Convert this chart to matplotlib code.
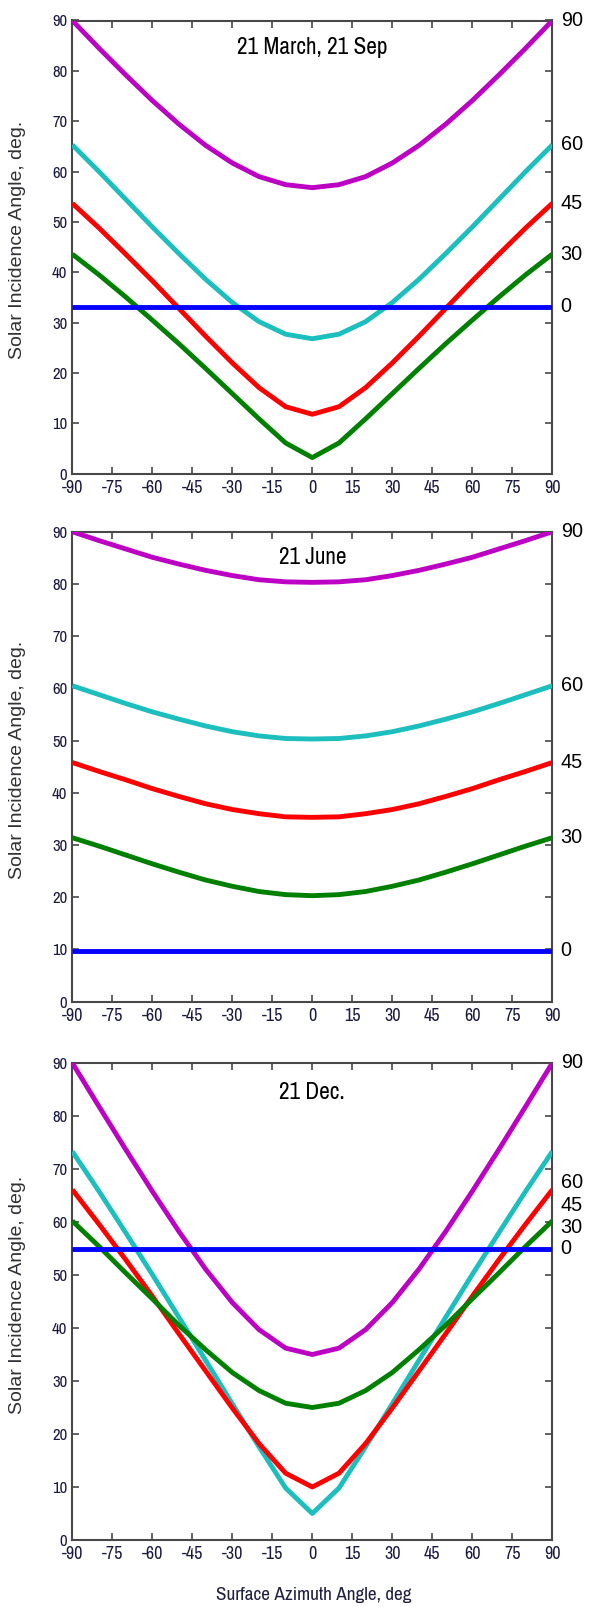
import os
import matplotlib
matplotlib.use('Agg')
import matplotlib.pyplot as plt
from matplotlib import font_manager
from matplotlib.font_manager import FontProperties

# ---------------- data ----------------
azimuth = [-90, -80, -70, -60, -50, -40, -30, -20, -10, 0,
           10, 20, 30, 40, 50, 60, 70, 80, 90]
tilts = [90, 60, 45, 30, 0]
tilt_labels = ['90', '60', '45', '30', '0']

mar_t90 = [90.0, 84.5, 79.2, 74.1, 69.4, 65.2, 61.7, 59.0, 57.4, 56.8,
           57.4, 59.0, 61.7, 65.2, 69.4, 74.1, 79.2, 84.5, 90.0]
mar_t60 = [65.3, 60.0, 54.5, 49.0, 43.7, 38.6, 34.0, 30.2, 27.7, 26.8,
           27.7, 30.2, 34.0, 38.6, 43.7, 49.0, 54.5, 60.0, 65.3]
mar_t45 = [53.7, 48.8, 43.6, 38.3, 32.8, 27.3, 22.0, 17.1, 13.3, 11.8,
           13.3, 17.1, 22.0, 27.3, 32.8, 38.3, 43.6, 48.8, 53.7]
mar_t30 = [43.6, 39.5, 35.1, 30.5, 25.8, 20.9, 15.9, 10.9, 6.1, 3.2,
           6.1, 10.9, 15.9, 20.9, 25.8, 30.5, 35.1, 39.5, 43.6]
mar_t0 = [33.2] * 19

jun_t90 = [90.0, 88.3, 86.7, 85.1, 83.8, 82.6, 81.6, 80.8, 80.4, 80.3,
           80.4, 80.8, 81.6, 82.6, 83.8, 85.1, 86.7, 88.3, 90.0]
jun_t60 = [60.5, 58.8, 57.1, 55.5, 54.1, 52.8, 51.7, 50.9, 50.4, 50.3,
           50.4, 50.9, 51.7, 52.8, 54.1, 55.5, 57.1, 58.8, 60.5]
jun_t45 = [45.8, 44.1, 42.5, 40.8, 39.3, 37.9, 36.8, 36.0, 35.4, 35.3,
           35.4, 36.0, 36.8, 37.9, 39.3, 40.8, 42.5, 44.1, 45.8]
jun_t30 = [31.4, 29.8, 28.1, 26.4, 24.8, 23.3, 22.1, 21.1, 20.5, 20.3,
           20.5, 21.1, 22.1, 23.3, 24.8, 26.4, 28.1, 29.8, 31.4]
jun_t0 = [9.8] * 19

dec_t90 = [90.0, 81.8, 73.7, 65.8, 58.2, 51.1, 44.8, 39.7, 36.2, 35.0,
           36.2, 39.7, 44.8, 51.1, 58.2, 65.8, 73.7, 81.8, 90.0]
dec_t60 = [73.3, 65.8, 58.0, 50.1, 42.0, 33.9, 25.7, 17.6, 9.8, 5.0,
           9.8, 17.6, 25.7, 33.9, 42.0, 50.1, 58.0, 65.8, 73.3]
dec_t45 = [66.1, 59.6, 52.9, 46.0, 38.9, 31.9, 24.9, 18.2, 12.6, 10.0,
           12.6, 18.2, 24.9, 31.9, 38.9, 46.0, 52.9, 59.6, 66.1]
dec_t30 = [60.2, 55.4, 50.4, 45.5, 40.5, 35.9, 31.6, 28.2, 25.8, 25.0,
           25.8, 28.2, 31.6, 35.9, 40.5, 45.5, 50.4, 55.4, 60.2]
dec_t0 = [55.0] * 19

titles = ['21 March, 21 Sep', '21 June', '21 Dec.']
mar_label_y = [90.0, 65.3, 53.7, 43.6, 33.2]
jun_label_y = [90.0, 60.5, 45.8, 31.4, 9.8]
dec_label_y = [90.0, 67.5, 63.2, 59.0, 55.0]

x_ticks = list(range(-90, 91, 15))
y_ticks = list(range(0, 91, 10))

# ---------------- fonts ----------------
def pick_condensed():
    bad = ('bold', 'italic', 'oblique', 'light', 'thin', 'black', 'medium',
           'semibold', 'heavy', 'mono')
    best, best_score = None, 99
    for f in font_manager.fontManager.ttflist:
        nm = f.name.lower()
        fn = os.path.basename(f.fname).lower()
        full = nm + ' ' + fn
        if 'serif' in full and 'sans' not in full:
            continue
        if any(b in fn for b in bad):
            continue
        if f.style != 'normal':
            continue
        stretch = str(f.stretch).lower()
        if 'narrow' in full:
            score = 0
        elif 'semicondensed' in full or 'semi-condensed' in full:
            score = 3
        elif 'extracondensed' in full or 'extra-condensed' in full:
            score = 4
        elif 'condensed' in full or 'condensed' in stretch:
            score = 1
        else:
            continue
        if 'liberation' in full or 'arial' in full:
            score -= 0.5
        if score < best_score:
            best, best_score = f, score
    return best

cond = pick_condensed()
if cond is not None:
    narrow_fp = FontProperties(fname=cond.fname)
else:
    narrow_fp = FontProperties(family='DejaVu Sans')
names = {f.name for f in font_manager.fontManager.ttflist}
regular_fp = FontProperties(family='Liberation Sans' if 'Liberation Sans' in names else 'DejaVu Sans')

W, H = 592.0, 1607.0
fig = plt.figure(figsize=(5.92, 16.07), dpi=100)
renderer = fig.canvas.get_renderer()


def fit(fp, text, target_px):
    p = fp.copy()
    p.set_size(10.0)
    t = fig.text(0, 0, text, fontproperties=p)
    w = t.get_window_extent(renderer).width
    t.remove()
    q = fp.copy()
    q.set_size(10.0 * target_px / w)
    return q

xtick_fp = fit(narrow_fp, '-75', 21.3)
ytick_fp = fit(narrow_fp, '90', 15.0)
title_fp = fit(narrow_fp, '21 March, 21 Sep', 151.0)
xlabel_fp = fit(narrow_fp, 'Surface Azimuth Angle, deg', 196.0)
ylabel_fp = fit(regular_fp, 'Solar Incidence Angle, deg.', 238.0)
right_fp = fit(regular_fp, '90', 22.0)

colors = {90: '#BC00C4', 60: '#1CBEBE', 45: '#FF0000', 30: '#008000', 0: '#0000FF'}
tick_color = '#1a1a40'
spine_color = '#484848'

panels = [(20.5, 473.7), (531.7, 1001.7), (1063.0, 1540.0)]
left_px, right_px = 72.3, 552.3
title_baseline = [54.0, 564.5, 1099.0]
ylabel_center = [240.0, 760.0, 1295.0]

data_sets = [
    [mar_t90, mar_t60, mar_t45, mar_t30, mar_t0],
    [jun_t90, jun_t60, jun_t45, jun_t30, jun_t0],
    [dec_t90, dec_t60, dec_t45, dec_t30, dec_t0],
]
label_ys = [mar_label_y, jun_label_y, dec_label_y]

for i, (top, bot) in enumerate(panels):
    ax = fig.add_axes([left_px / W, 1 - bot / H, (right_px - left_px) / W, (bot - top) / H])
    for t, ys in zip(tilts, data_sets[i]):
        ax.plot(azimuth, ys, color=colors[t], lw=3.5, solid_joinstyle='round',
                solid_capstyle='butt', zorder=3)
    ax.set_xlim(-90, 90)
    ax.set_ylim(0, 90)
    ax.set_xticks(x_ticks)
    ax.set_yticks(y_ticks)
    ax.set_xticklabels([str(v) for v in x_ticks], fontproperties=xtick_fp, color=tick_color)
    ax.set_yticklabels([str(v) for v in y_ticks], fontproperties=ytick_fp, color=tick_color)
    ax.tick_params(direction='in', length=5, width=1.2, colors=spine_color,
                   top=True, right=True, labelcolor=tick_color)
    ax.tick_params(axis='x', pad=4.5)
    ax.tick_params(axis='y', pad=3.5)
    for s in ax.spines.values():
        s.set_color(spine_color)
        s.set_linewidth(1.5)
    ax.set_ylabel('Solar Incidence Angle, deg.', fontproperties=ylabel_fp, color='#303038')
    cy = (bot - ylabel_center[i]) / (bot - top)
    ax.yaxis.set_label_coords((26.5 - left_px) / (right_px - left_px), cy)
    ax.text(0.5, (bot - title_baseline[i]) / (bot - top), titles[i], transform=ax.transAxes,
            ha='center', va='baseline', fontproperties=title_fp, color='black')
    for lab, yv in zip(tilt_labels, label_ys[i]):
        ax.annotate(lab, xy=(1.0, yv), xycoords=('axes fraction', 'data'),
                    xytext=(6, 0), textcoords='offset points', ha='left', va='center',
                    fontproperties=right_fp, color='black', annotation_clip=False)

fig.text(314 / W, 1 - 1595 / H, 'Surface Azimuth Angle, deg', ha='center', va='center',
         fontproperties=xlabel_fp, color='#202040')

fig.savefig('out.png', dpi=100, facecolor='white')
